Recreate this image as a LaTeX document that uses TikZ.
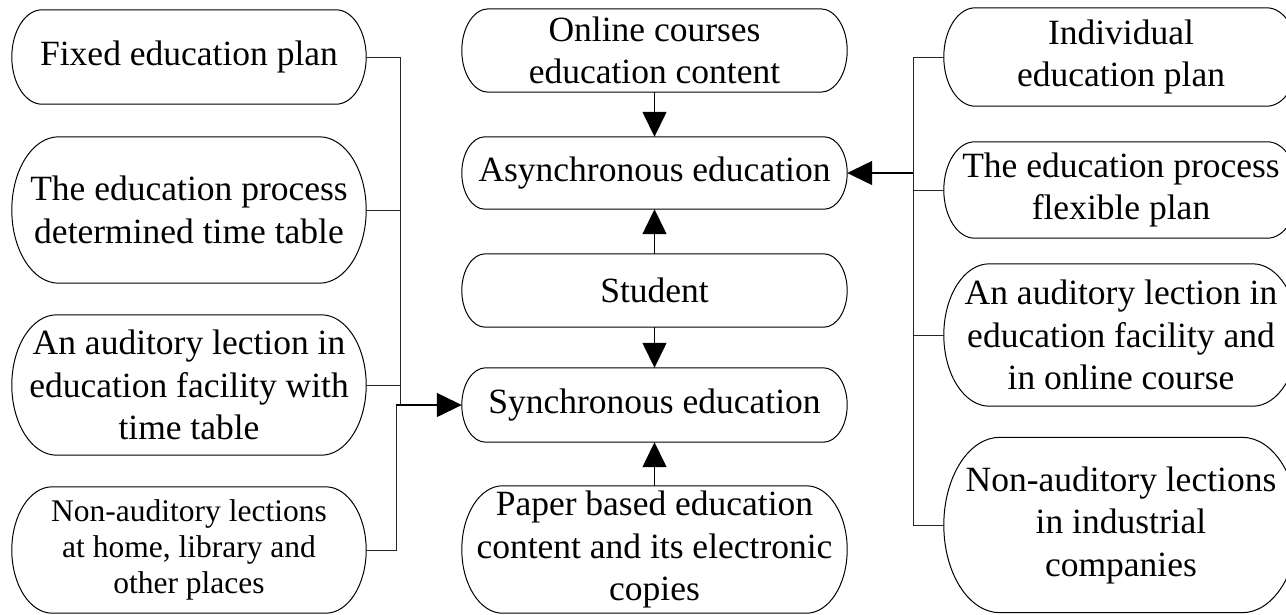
\documentclass[tikz,border=0pt]{standalone}
\usepackage{fontspec}
\setmainfont{Liberation Serif}
\usetikzlibrary{arrows.meta,calc}
\tikzset{
  pill/.style={draw=none, inner sep=0pt, align=center, minimum width=354pt,
    font=\fontsize{35.5}{42.5}\selectfont},
  cpill/.style={pill, minimum width=385pt},
  small/.style={font=\fontsize{31.5}{36}\selectfont},
  boxline/.style={draw=black, line width=1pt},
  conn/.style={draw=black!85, line width=1pt},
  arr/.style={draw=black, line width=1.4pt, -{Triangle[length=25pt,width=24pt]}},
}
\newcommand\pillshape[1]{%
  \draw[boxline] let \p1=(#1.north west), \p2=(#1.south east),
    \n1={0.5*(\y1-\y2)}, \n2={0.32*(\y1-\y2)} in
    (\x1+\n2,\y1) -- (\x2-\n2,\y1)
    arc[start angle=90,end angle=-90,x radius=\n2,y radius=\n1]
    -- (\x1+\n2,\y2)
    arc[start angle=270,end angle=90,x radius=\n2,y radius=\n1] -- cycle;}
\begin{document}
\begin{tikzpicture}[x=1pt,y=-1pt]
\useasboundingbox (0,0) rectangle (1286,614);
% left column
\node[pill, minimum height=94pt]  (L1) at (189,57)  {Fixed education plan};
\node[pill, minimum height=146pt] (L2) at (189,210) {The education process\\determined time table};
\node[pill, minimum height=140pt] (L3) at (189,385) {An auditory lection in\\education facility with\\time table};
\node[pill, small, minimum height=126pt] (L4) at (189,550) {Non-auditory lections\\at home, library and\\other places};
% centre column
\node[cpill, minimum height=83pt]  (C1) at (654.5,50.5) {Online courses\\education content};
\node[cpill, minimum height=72pt]  (C2) at (654.5,173)  {Asynchronous education};
\node[cpill, minimum height=73pt]  (C3) at (654.5,290.5) {Student};
\node[cpill, minimum height=74pt]  (C4) at (654.5,405)  {Synchronous education};
\node[cpill, minimum height=127pt] (C5) at (654.5,549.5) {Paper based education\\content and its electronic\\copies};
% right column
\node[pill, minimum height=98pt]  (R1) at (1121,57)  {Individual\\education plan};
\node[pill, minimum height=96pt]  (R2) at (1121,190) {The education process\\flexible plan};
\node[pill, minimum height=142pt] (R3) at (1121,335) {An auditory lection in\\education facility and\\in online course};
\node[pill, minimum height=175pt] (R4) at (1121,525) {Non-auditory lections\\in industrial\\companies};
\foreach \nm in {L1,L2,L3,L4,C1,C2,C3,C4,C5,R1,R2,R3,R4} {\pillshape{\nm}}
% centre arrows
\draw[arr] (C1) -- (C2);
\draw[arr] (C3) -- (C2);
\draw[arr] (C3) -- (C4);
\draw[arr] (C5) -- (C4);
% left bus
\coordinate (lj) at (400,405);
\coordinate (lk) at (396,405);
\draw[conn] (L1.east) -| (lj);
\draw[conn] (L2.east) -- (L2.east -| lj);
\draw[conn] (L3.east) -- (L3.east -| lj);
\draw[conn] (L4.east) -| (lk);
\draw[arr] (lk) -- (C4.west);
% right bus
\coordinate (rj) at (913,173);
\draw[conn] (R1.west) -| (rj |- R4.west) -- (R4.west);
\draw[conn] (R2.west) -- (R2.west -| rj);
\draw[conn] (R3.west) -- (R3.west -| rj);
\draw[arr] (rj) -- (C2.east);
\end{tikzpicture}
\end{document}
